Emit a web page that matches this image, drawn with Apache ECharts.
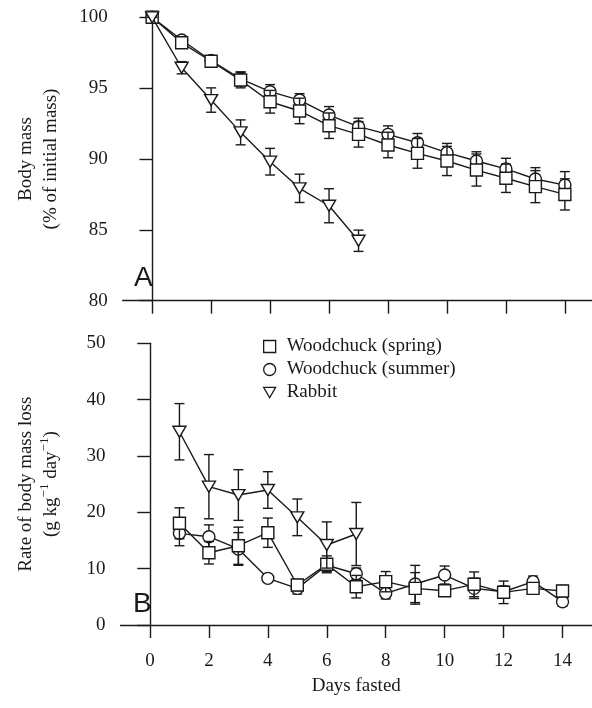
<!DOCTYPE html>
<html>
<head>
<meta charset="utf-8">
<script src="https://cdn.jsdelivr.net/npm/echarts@6/dist/echarts.min.js"></script>
<style>
  html, body { margin: 0; padding: 0; background: #fff; }
  #chart { width: 592px; height: 708px; }
</style>
</head>
<body>
<div id="chart"></div>
<script>
// days fasted
const days = [0, 1, 2, 3, 4, 5, 6, 7, 8, 9, 10, 11, 12, 13, 14];
const rabbitDays = [0, 1, 2, 3, 4, 5, 6, 7];
const rateDays = [1, 2, 3, 4, 5, 6, 7, 8, 9, 10, 11, 12, 13, 14];
const rabbitRateDays = [1, 2, 3, 4, 5, 6, 7];
const xTicks = [0, 2, 4, 6, 8, 10, 12, 14];

// panel A: body mass (% of initial)
const springMass = [100, 98.2, 96.9, 95.57, 94.04, 93.39, 92.35, 91.74, 90.99, 90.4, 89.86, 89.22, 88.64, 88.05, 87.5];
const springMassErr = [0.1, 0.2, 0.25, 0.55, 0.8, 0.9, 0.9, 0.9, 0.9, 1.05, 1.03, 1.13, 1.0, 1.13, 1.1];
const summerMass = [100, 98.4, 96.95, 95.65, 94.75, 94.16, 93.1, 92.28, 91.74, 91.15, 90.45, 89.86, 89.3, 88.59, 88.16];
const summerMassErr = [0.1, 0.2, 0.25, 0.5, 0.5, 0.45, 0.6, 0.6, 0.6, 0.65, 0.65, 0.65, 0.75, 0.8, 0.95];
const rabbitMass = [100, 96.44, 94.16, 91.88, 89.81, 87.93, 86.7, 84.23];
const rabbitMassErr = [0, 0.43, 0.86, 0.88, 0.94, 1.0, 1.2, 0.75];

// panel B: rate of body mass loss (g kg-1 day-1)
const springRate = [18.05, 12.83, 14.07, 16.38, 7.1, 10.77, 6.8, 7.69, 6.5, 6.09, 7.22, 5.8, 6.5, 6.03];
const springRateErr = [2.75, 2.0, 3.3, 2.6, 1.0, 1.5, 2.0, 1.8, 2.8, 1.0, 2.2, 2.0, 1.0, 1.0];
const summerRate = [16.27, 15.67, 13.5, 8.28, 6.5, 10.6, 9.1, 5.62, 7.28, 8.87, 6.5, 5.9, 7.69, 4.14];
const summerRateErr = [2.2, 2.1, 2.9, 0.5, 1.0, 1.1, 1.0, 1.0, 3.3, 1.6, 1.8, 1.0, 1.0, 0.8];
const rabbitRate = [34.3, 24.55, 23.07, 23.96, 19.11, 14.2, 16.15];
const rabbitRateErr = [5.0, 5.7, 4.5, 3.25, 3.25, 4.1, 5.6];

const names = ['Woodchuck (spring)', 'Woodchuck (summer)', 'Rabbit'];
const ink = '#1a1a1a';
const font = 'Liberation Serif';
const triDown = 'path://M0,0 L12,0 L6,10.4 Z';

const zip = (xs, ys) => xs.map((x, i) => [x, ys[i]]);
const errs = (xs, ys, es) => xs.map((x, i) => [x, ys[i] - es[i], ys[i] + es[i]]);

function errorBars(data, axis, z) {
  return {
    type: 'custom',
    xAxisIndex: axis,
    yAxisIndex: axis,
    z: z,
    silent: true,
    encode: { x: 0, y: [1, 2] },
    data: data,
    renderItem(params, api) {
      const x = api.value(0);
      const top = api.coord([x, api.value(2)]);
      const bot = api.coord([x, api.value(1)]);
      const w = 5;
      const st = { stroke: ink, lineWidth: 1.4 };
      return {
        type: 'group',
        children: [
          { type: 'line', shape: { x1: top[0], y1: top[1], x2: bot[0], y2: bot[1] }, style: st },
          { type: 'line', shape: { x1: top[0] - w, y1: top[1], x2: top[0] + w, y2: top[1] }, style: st },
          { type: 'line', shape: { x1: bot[0] - w, y1: bot[1], x2: bot[0] + w, y2: bot[1] }, style: st }
        ]
      };
    }
  };
}

function lineSeries(name, data, axis, symbol, size, z) {
  return {
    name: name,
    type: 'line',
    xAxisIndex: axis,
    yAxisIndex: axis,
    z: z,
    data: data,
    symbol: symbol,
    symbolSize: size,
    showAllSymbol: true,
    itemStyle: { color: '#fff', borderColor: ink, borderWidth: 1.4 },
    lineStyle: { color: ink, width: 1.4 },
    emphasis: { disabled: true }
  };
}

function xAxis(grid, max, labels) {
  return {
    type: 'value',
    gridIndex: grid,
    min: -1,
    max: max,
    splitLine: { show: false },
    axisLine: { onZero: false, lineStyle: { color: ink, width: 1.4 } },
    axisTick: { length: 13, customValues: xTicks, lineStyle: { color: ink, width: 1.4 } },
    axisLabel: labels
      ? { show: true, customValues: xTicks, margin: 27, fontSize: 19, color: ink, fontFamily: font }
      : { show: false },
    name: labels ? 'Days fasted' : '',
    nameLocation: 'middle',
    nameGap: 52,
    nameTextStyle: { fontSize: 19, color: ink, fontFamily: font }
  };
}

const chart = echarts.init(document.getElementById('chart'), null, { renderer: 'canvas' });

chart.setOption({
  animation: false,
  backgroundColor: '#fff',
  textStyle: { fontFamily: font, color: ink },
  grid: [
    { left: 122.7, right: 0, top: 17.3, height: 283.4 },
    { left: 120.5, right: 0, top: 343.3, height: 281.7 }
  ],
  xAxis: [xAxis(0, 14.92, false), xAxis(1, 15, true)],
  yAxis: [
    {
      type: 'value', gridIndex: 0, min: 80, max: 100, interval: 5,
      splitLine: { show: false },
      axisLine: { show: true, lineStyle: { color: ink, width: 1.4 } },
      axisTick: { show: true, length: 12.7, lineStyle: { color: ink, width: 1.4 } },
      axisLabel: { margin: 15, fontSize: 19, color: ink, fontFamily: font },
      name: 'Body mass\n(% of initial mass)',
      nameLocation: 'middle',
      nameRotate: 90,
      nameGap: 59,
      nameTextStyle: { fontSize: 19, lineHeight: 25, color: ink, fontFamily: font, align: 'center' }
    },
    {
      type: 'value', gridIndex: 1, min: 0, max: 50, interval: 10,
      splitLine: { show: false },
      axisLine: { show: true, lineStyle: { color: ink, width: 1.4 } },
      axisTick: { show: true, length: 12.7, lineStyle: { color: ink, width: 1.4 } },
      axisLabel: { margin: 15, fontSize: 19, color: ink, fontFamily: font },
      name: '{a|Rate of body mass loss}\n{a|(g kg}{s|−1}{a| day}{s|−1}{a|)}',
      nameLocation: 'middle',
      nameRotate: 90,
      nameGap: 57,
      nameTextStyle: {
        color: ink, fontFamily: font, align: 'center',
        rich: {
          a: { fontSize: 19, lineHeight: 25, fontFamily: font, color: ink },
          s: { fontSize: 13, lineHeight: 25, fontFamily: font, color: ink, verticalAlign: 'top', padding: [0, 0, 6, 0] }
        }
      }
    }
  ],
  legend: {
    orient: 'vertical',
    left: 258,
    top: 332,
    itemWidth: 12,
    itemHeight: 12,
    itemGap: 4,
    selectedMode: false,
    itemStyle: { color: '#fff', borderColor: ink, borderWidth: 1.3 },
    textStyle: { fontSize: 19, color: ink, fontFamily: font, padding: [0, 0, 0, 6] },
    data: [
      { name: names[0], icon: 'rect' },
      { name: names[1], icon: 'circle' },
      { name: names[2], icon: triDown }
    ]
  },
  graphic: [
    { type: 'text', left: 134, top: 264, style: { text: 'A', font: '28px "Liberation Sans"', fill: ink } },
    { type: 'text', left: 133, top: 590, style: { text: 'B', font: '28px "Liberation Sans"', fill: ink } }
  ],
  series: [
    errorBars(errs(days, summerMass, summerMassErr), 0, 1),
    lineSeries(names[1], zip(days, summerMass), 0, 'circle', 12, 2),
    errorBars(errs(days, springMass, springMassErr), 0, 3),
    lineSeries(names[0], zip(days, springMass), 0, 'rect', 12, 4),
    errorBars(errs(rabbitDays, rabbitMass, rabbitMassErr), 0, 5),
    lineSeries(names[2], zip(rabbitDays, rabbitMass), 0, triDown, [13, 11], 6),

    errorBars(errs(rateDays, summerRate, summerRateErr), 1, 1),
    lineSeries(names[1], zip(rateDays, summerRate), 1, 'circle', 12, 2),
    errorBars(errs(rateDays, springRate, springRateErr), 1, 3),
    lineSeries(names[0], zip(rateDays, springRate), 1, 'rect', 12, 4),
    errorBars(errs(rabbitRateDays, rabbitRate, rabbitRateErr), 1, 5),
    lineSeries(names[2], zip(rabbitRateDays, rabbitRate), 1, triDown, [13, 11], 6)
  ]
});
</script>
</body>
</html>
